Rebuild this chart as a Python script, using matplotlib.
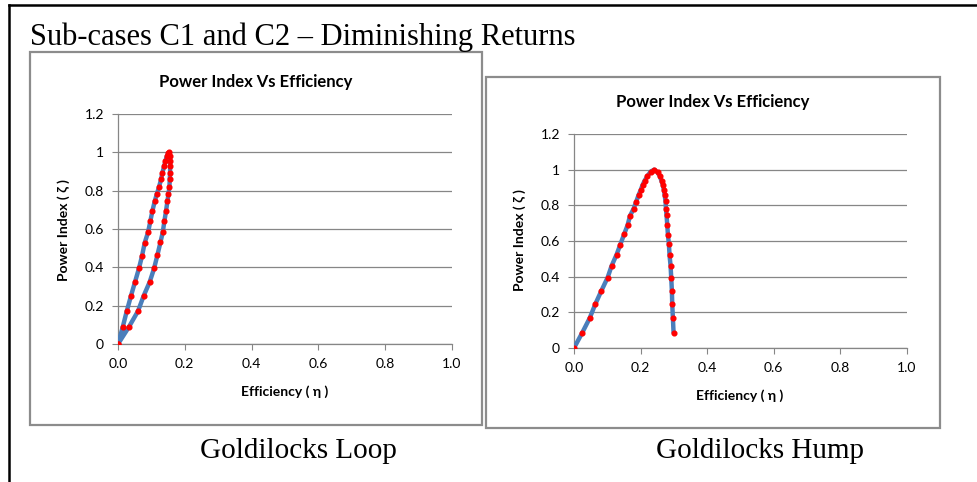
import matplotlib.pyplot as plt
from matplotlib.patches import Rectangle
from matplotlib.lines import Line2D

# C1 - Goldilocks loop (efficiency, power index)
loop_eta = [0, 0.014, 0.026, 0.039, 0.051, 0.063, 0.072, 0.080, 0.090, 0.097,
            0.103, 0.110, 0.116, 0.123, 0.129, 0.133, 0.138, 0.142, 0.146, 0.151,
            0.153,
            0.156, 0.156, 0.156, 0.156, 0.155, 0.154, 0.151, 0.148, 0.144, 0.139,
            0.134, 0.127, 0.118, 0.108, 0.095, 0.077, 0.060, 0.032, 0]
loop_zeta = [0, 0.087, 0.170, 0.252, 0.324, 0.396, 0.460, 0.528, 0.583, 0.642,
             0.694, 0.745, 0.781, 0.820, 0.860, 0.894, 0.927, 0.955, 0.979, 0.998,
             1.000,
             0.979, 0.955, 0.927, 0.894, 0.860, 0.820, 0.781, 0.745, 0.696, 0.642,
             0.583, 0.530, 0.464, 0.394, 0.324, 0.252, 0.172, 0.087, 0]

# C2 - Goldilocks hump
hump_eta = [0, 0.024, 0.047, 0.064, 0.082, 0.101, 0.113, 0.128, 0.139, 0.151,
            0.161, 0.168, 0.179, 0.186, 0.194, 0.200, 0.206, 0.212, 0.220, 0.230,
            0.241,
            0.251, 0.258, 0.263, 0.267, 0.270, 0.272, 0.275, 0.276, 0.278, 0.280,
            0.282, 0.285, 0.287, 0.290, 0.292, 0.294, 0.295, 0.297, 0.299]
hump_zeta = [0, 0.083, 0.167, 0.246, 0.320, 0.395, 0.461, 0.524, 0.580, 0.640,
             0.689, 0.740, 0.781, 0.816, 0.858, 0.884, 0.914, 0.938, 0.962, 0.989,
             1.000,
             0.985, 0.962, 0.936, 0.912, 0.886, 0.860, 0.822, 0.781, 0.743, 0.691,
             0.636, 0.583, 0.519, 0.461, 0.393, 0.319, 0.247, 0.167, 0.086]

x_ticks = [0.0, 0.2, 0.4, 0.6, 0.8, 1.0]
x_tick_labels = ["0.0", "0.2", "0.4", "0.6", "0.8", "1.0"]
y_ticks = [0, 0.2, 0.4, 0.6, 0.8, 1.0, 1.2]
y_tick_labels = ["0", "0.2", "0.4", "0.6", "0.8", "1", "1.2"]

W, H = 977, 482
SANS = ["Lato", "DejaVu Sans"]
SERIF = "Liberation Serif"
GREY = "#868686"

fig = plt.figure(figsize=(W / 100, H / 100), dpi=100)


def box(x0, y0, x1, y1):
    # pixel box (top-left origin) -> figure fractions
    return [x0 / W, 1 - y1 / H, (x1 - x0) / W, (y1 - y0) / H]


def panel(x0, y0, x1, y1):
    l, b, w, h = box(x0, y0, x1, y1)
    fig.add_artist(Rectangle((l, b), w, h, transform=fig.transFigure,
                             fill=False, edgecolor="#8c8c8c", linewidth=1.6))


def chart(rect, eta, zeta, title_xy, xlabel_xy, ylabel_xy):
    ax = fig.add_axes(box(*rect))
    ax.plot(eta, zeta, color="#4a7ebb", linewidth=3.2, solid_capstyle="round",
            zorder=3)
    ax.plot(eta, zeta, linestyle="none", marker="o", markersize=3.4,
            color="#ff0000", zorder=4)
    ax.set_xlim(0, 1.0)
    ax.set_ylim(0, 1.2)
    ax.set_xticks(x_ticks)
    ax.set_xticklabels(x_tick_labels, family=SANS, fontsize=10)
    ax.set_yticks(y_ticks)
    ax.set_yticklabels(y_tick_labels, family=SANS, fontsize=10)
    ax.tick_params(axis="both", direction="out", length=4, width=0.8,
                   color=GREY, pad=6)
    for side in ["top", "right"]:
        ax.spines[side].set_visible(False)
    for side in ["left", "bottom"]:
        ax.spines[side].set_color(GREY)
        ax.spines[side].set_linewidth(0.9)
    ax.grid(axis="y", color=GREY, linewidth=0.9)
    ax.set_axisbelow(True)

    fig.text(title_xy[0] / W, 1 - title_xy[1] / H, "Power Index Vs Efficiency",
             ha="center", va="center", family=SANS, fontsize=12,
             fontweight="bold")
    fig.text(xlabel_xy[0] / W, 1 - xlabel_xy[1] / H, "Efficiency ( η )",
             ha="center", va="center", family=SANS, fontsize=10,
             fontweight="bold")
    fig.text(ylabel_xy[0] / W, 1 - ylabel_xy[1] / H, "Power Index ( ζ )",
             ha="center", va="center", rotation=90, family=SANS,
             fontsize=10, fontweight="bold")
    return ax


# outer frame (left and top edges)
fig.add_artist(Line2D([9 / W, 9 / W], [0, 1 - 5 / H], transform=fig.transFigure,
                      color="black", linewidth=1.8))
fig.add_artist(Line2D([9 / W, 1], [1 - 5 / H, 1 - 5 / H],
                      transform=fig.transFigure, color="black", linewidth=1.8))

fig.text(30 / W, 1 - 45 / H, "Sub-cases C1 and C2 – Diminishing Returns",
         ha="left", va="baseline", family=SERIF, fontsize=22)

panel(30, 52, 482, 425)
panel(486, 77, 940, 428)

chart((118, 114, 452, 344), loop_eta, loop_zeta,
      (256, 82), (285, 392), (64, 230))
chart((574, 134, 907, 348), hump_eta, hump_zeta,
      (713, 102), (740, 396), (520, 240))

fig.text(298 / W, 1 - 458 / H, "Goldilocks Loop", ha="center", va="baseline",
         family=SERIF, fontsize=21)
fig.text(760 / W, 1 - 458 / H, "Goldilocks Hump", ha="center", va="baseline",
         family=SERIF, fontsize=21)

fig.savefig("out.png", dpi=100)
